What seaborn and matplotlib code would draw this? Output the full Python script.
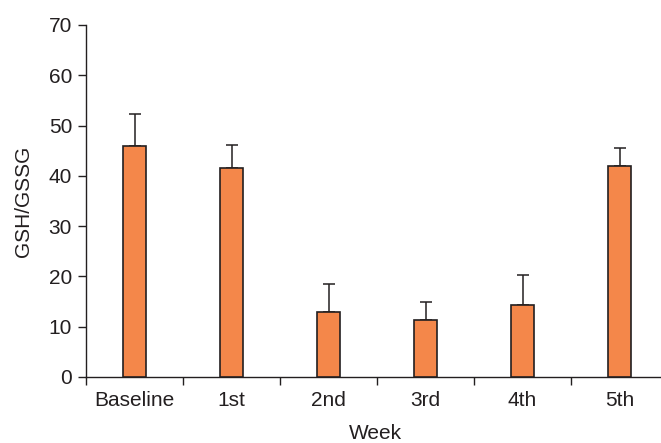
import matplotlib
matplotlib.use("Agg")
import matplotlib.pyplot as plt
import seaborn as sns
import pandas as pd
import numpy as np

weeks = ["Baseline", "1st", "2nd", "3rd", "4th", "5th"]
ratio_mean = [46.0, 41.6, 12.9, 11.3, 14.3, 42.0]
ratio_err = [6.4, 4.6, 5.6, 3.7, 6.0, 3.5]

ink = "#231f20"
bar_color = "#f4874a"

sns.set_theme(style="ticks")
plt.rcParams["font.family"] = ["Liberation Sans", "DejaVu Sans"]
plt.rcParams["text.color"] = ink
plt.rcParams["axes.labelcolor"] = ink
plt.rcParams["xtick.color"] = ink
plt.rcParams["ytick.color"] = ink

df = pd.DataFrame({"Week": weeks, "GSH/GSSG": ratio_mean})

fig = plt.figure(figsize=(6.61, 4.43), dpi=100)
ax = fig.add_axes([86 / 661, 66 / 443, 582 / 661, 352 / 443])

sns.barplot(data=df, x="Week", y="GSH/GSSG", color=bar_color, saturation=1,
            width=0.23, edgecolor=ink, linewidth=1.2, errorbar=None, ax=ax,
            zorder=3)

# upper-only error bars
x = np.arange(len(weeks))
ax.errorbar(x, ratio_mean, yerr=[np.zeros(len(weeks)), ratio_err],
            fmt="none", ecolor=ink, elinewidth=1.1, capsize=4.5, capthick=1.1,
            zorder=2)

ax.set_xlim(-0.5, len(weeks) - 0.5)
ax.set_ylim(0, 70)
ax.set_yticks(range(0, 71, 10))

# category labels without tick marks; tick marks between categories
ax.set_xticks(x)
ax.set_xticklabels(weeks)
ax.set_xticks(np.arange(-0.5, len(weeks), 1.0), minor=True)
ax.tick_params(axis="x", which="major", length=0, pad=10, labelsize=15)
ax.tick_params(axis="x", which="minor", length=6, width=1.0, color=ink)
ax.tick_params(axis="y", length=6, width=1.0, pad=4, labelsize=15)

ax.set_xlabel("Week", fontsize=15)
ax.set_ylabel("GSH/GSSG", fontsize=15)
ax.xaxis.set_label_coords(0.498, -0.133)
ax.yaxis.set_label_coords(-0.091, 0.5)

for side in ("top", "right"):
    ax.spines[side].set_visible(False)
for side in ("left", "bottom"):
    ax.spines[side].set_color(ink)
    ax.spines[side].set_linewidth(1.0)

fig.savefig("out.png", dpi=100)
